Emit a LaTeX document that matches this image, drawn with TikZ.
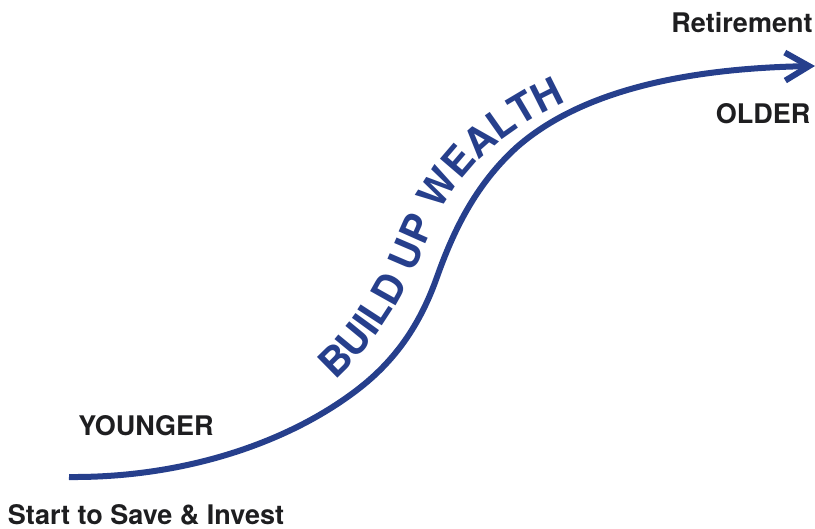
\documentclass[tikz,border=0pt]{standalone}
\usepackage{fontspec}
\setmainfont{TeX Gyre Heros}
\usetikzlibrary{decorations.text,arrows.meta}
\definecolor{navy}{HTML}{263F8C}
\definecolor{ink}{HTML}{1E1E20}
\tikzset{lab/.style={text=ink,font=\fontsize{27}{28}\selectfont\bfseries,inner sep=0pt,anchor=center}}
\begin{document}
\begin{tikzpicture}[x=1pt,y=-1pt]
\useasboundingbox (0,0) rectangle (815,529);
\coordinate (s) at (69,477);
\coordinate (e) at (815,66);
\draw[navy,line width=6pt,-{Straight Barb[length=24pt,width=28pt,line width=6pt]}] (s) .. controls (180,478) and (285,445) .. (357,390) .. controls (395,361) and (420,325) .. (437,277) .. controls (453,232) and (475,185) .. (517,147) .. controls (590,83) and (710,68) .. (e);
\path[decorate,decoration={text along path,text align={left indent=0pt},text={|\fontsize{40}{41}\selectfont\bfseries\color{navy}|BUILD UP WEALTH}}]
 (335,380) .. controls (375,345) and (400,300) .. (415,269) .. controls (430,235) and (440,205) .. (467,173) .. controls (490,145) and (525,120) .. (575,98);
\node[lab] (ret) at (742,23) {Retirement};
\node[lab] (old) at (763,114) {OLDER};
\node[lab] (yng) at (146,426) {YOUNGER};
\node[lab] (st) at (146,515) {Start to Save \& Invest};
\end{tikzpicture}
\end{document}
